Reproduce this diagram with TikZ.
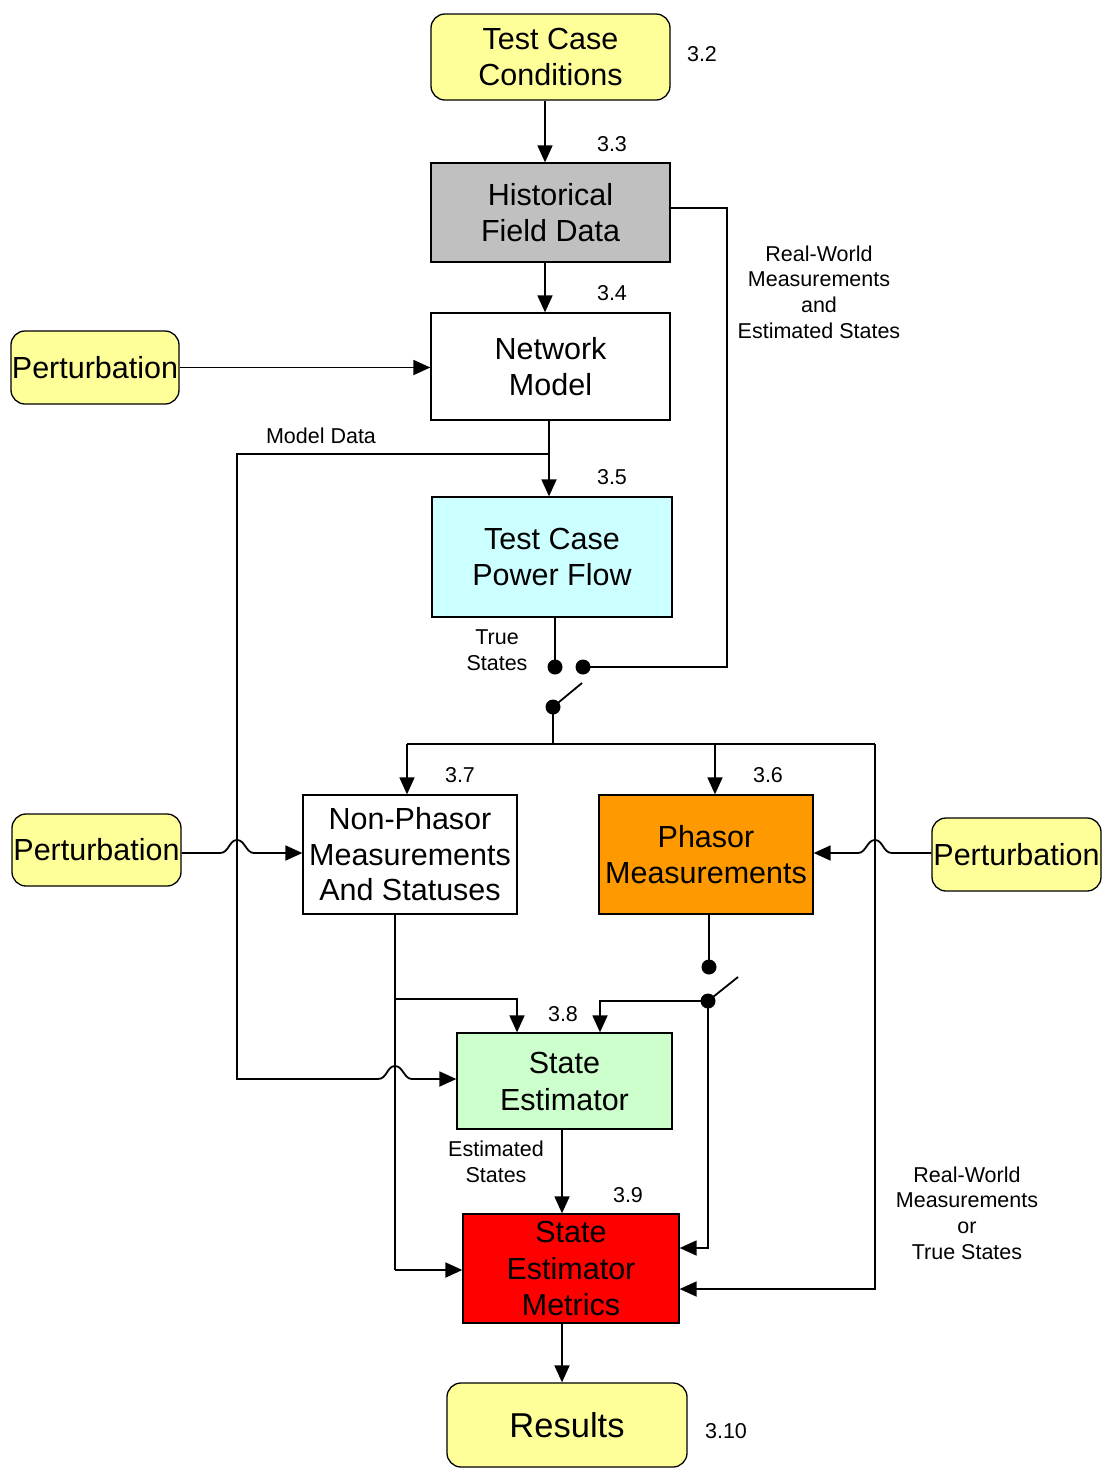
\documentclass[tikz,border=0pt]{standalone}
\usepackage{fontspec}
\setmainfont{Liberation Sans}
\usetikzlibrary{arrows.meta}
\definecolor{cyel}{HTML}{FFFF99}
\definecolor{cgray}{HTML}{C0C0C0}
\definecolor{ccyan}{HTML}{CCFFFF}
\definecolor{corange}{HTML}{FF9900}
\definecolor{cgreen}{HTML}{CCFFCC}
\definecolor{cred}{HTML}{FF0000}
\begin{document}
\begin{tikzpicture}[x=1pt,y=-1pt,
 box/.style={draw=black,line width=1.3pt,inner sep=0pt,align=center,font=\fontsize{30.5}{35.5}\selectfont},
 rbox/.style={box,rounded corners=14pt,fill=cyel},
 lab/.style={inner sep=0pt,align=center,font=\fontsize{21.5}{25.7}\selectfont},
 num/.style={inner sep=0pt,font=\fontsize{21.5}{24}\selectfont},
 conn/.style={line width=1.8pt},
 arr/.style={conn,-{Triangle[length=17pt,width=15pt]}},
 dot/.style={circle,fill=black,inner sep=0pt,minimum size=15pt}]
\useasboundingbox (0,0) rectangle (1102,1468);

% nodes
\node[rbox,minimum width=239pt,minimum height=86pt] (tcc) at (550.5,57) {Test Case\\Conditions};
\node[box,fill=cgray,minimum width=239pt,minimum height=99pt] (hfd) at (550.5,212.5) {Historical\\Field Data};
\node[box,fill=white,minimum width=239pt,minimum height=107pt] (nm) at (550.5,366.5) {Network\\Model};
\node[rbox,minimum width=168pt,minimum height=73pt] (p1) at (95,367.5) {Perturbation};
\node[box,fill=ccyan,minimum width=240pt,minimum height=120pt] (pf) at (552,557) {Test Case\\Power Flow};
\node[box,fill=white,minimum width=214pt,minimum height=119pt] (np) at (410,854.5) {Non-Phasor\\Measurements\\And Statuses};
\node[box,fill=corange,minimum width=214pt,minimum height=119pt] (ph) at (706,854.5) {Phasor\\Measurements};
\node[rbox,minimum width=169pt,minimum height=72pt] (p2) at (96.5,850) {Perturbation};
\node[rbox,minimum width=169pt,minimum height=73pt] (p3) at (1016.5,854.5) {Perturbation};
\node[box,fill=cgreen,minimum width=215pt,minimum height=96pt,font=\fontsize{30.5}{37}\selectfont] (se) at (564.5,1081) {State\\Estimator};
\node[box,fill=cred,minimum width=216pt,minimum height=109pt,font=\fontsize{30.5}{36.5}\selectfont] (sem) at (571,1268.5) {State\\Estimator\\Metrics};
\node[rbox,minimum width=240pt,minimum height=84pt,font=\fontsize{34.5}{40}\selectfont] (res) at (567,1425) {Results};

% numbers
\node[num] (n32) at (702,54) {3.2};
\node[num] (n33) at (612,144) {3.3};
\node[num] (n34) at (612,293) {3.4};
\node[num] (n35) at (612,477) {3.5};
\node[num] (n37) at (460,775) {3.7};
\node[num] (n36) at (768,775) {3.6};
\node[num] (n38) at (563,1014) {3.8};
\node[num] (n39) at (628,1195) {3.9};
\node[num] (n310) at (726,1431) {3.10};

% labels
\node[lab] (lrw) at (819,292) {Real-World\\Measurements\\and\\Estimated States};
\node[lab] (lmd) at (321,436) {Model Data};
\node[lab] (lts) at (497,650) {True\\States};
\node[lab] (les) at (496,1162) {Estimated\\States};
\node[lab] (lrw2) at (967,1213) {Real-World\\Measurements\\or\\True States};

% switch dots
\node[dot] (t1) at (555,667) {};
\node[dot] (t2) at (583,667) {};
\node[dot] (s1) at (553,707) {};
\coordinate (s1b) at (582,683);
\node[dot] (q1) at (709,967) {};
\node[dot] (q2) at (708,1001) {};
\coordinate (q2b) at (738,977);

% helper coordinates
\coordinate (md) at (549,454);
\coordinate (bus) at (553,744);
\coordinate (busL) at (407,744);
\coordinate (busM) at (715,744);
\coordinate (busR) at (875,744);
\coordinate (npb) at (395,914);
\coordinate (npj) at (395,999);
\coordinate (phb) at (709,914);

% connectors
\draw[arr] ([xshift=-5.5pt]tcc.south) -- ([xshift=-5.5pt]hfd.north);
\draw[arr] ([xshift=-5.5pt]hfd.south) -- ([xshift=-5.5pt]nm.north);
\draw[arr] (p1.east) -- (nm.west |- p1.east);
\draw[arr] ([xshift=-1.5pt]nm.south) -- ([xshift=-3pt]pf.north);
\draw[arr] (md) -- (237,454) -- (237,1079) -- (378,1079)
  .. controls (387,1079) and (387,1066) .. (395,1066)
  .. controls (403,1066) and (404,1079) .. (412,1079) -- (se.west |- 0,1079);
\draw[conn] (pf.south -| t1) -- (t1.center);
\draw[conn] (t2.center) -- (727,667) -- (727,208) -- (hfd.east |- 0,208);
\draw[conn] (s1.center) -- (s1b);
\draw[conn] (s1.center) -- (bus);
\draw[conn] (busL) -- (busR);
\draw[arr] (busL) -- (np.north -| busL);
\draw[arr] (busM) -- (ph.north -| busM);
\draw[arr] (busR) -- (875,1289) -- (sem.east |- 0,1289);
\draw[arr] (p2.east |- 0,853) -- (220,853)
  .. controls (229,853) and (229,840) .. (237,840)
  .. controls (245,840) and (246,853) .. (254,853) -- (np.west |- 0,853);
\draw[arr] (p3.west |- 0,853) -- (892,853)
  .. controls (883,853) and (883,840) .. (875,840)
  .. controls (867,840) and (866,853) .. (858,853) -- (ph.east |- 0,853);
\draw[conn] (npb) -- (395,1270);
\draw[arr] (395,1270) -- (sem.west |- 0,1270);
\draw[arr] (npj) -- (517,999) -- (se.north -| 517,0);
\draw[conn] (phb) -- (q1.center);
\draw[conn] (q2.center) -- (q2b);
\draw[arr] (q2.center) -- (600,1001) -- (se.north -| 600,0);
\draw[arr] (q2.center) -- (708,1248) -- (sem.east |- 0,1248);
\draw[arr] (se.south -| 562,0) -- (sem.north -| 562,0);
\draw[arr] (sem.south -| 562,0) -- (res.north -| 562,0);
\end{tikzpicture}
\end{document}
